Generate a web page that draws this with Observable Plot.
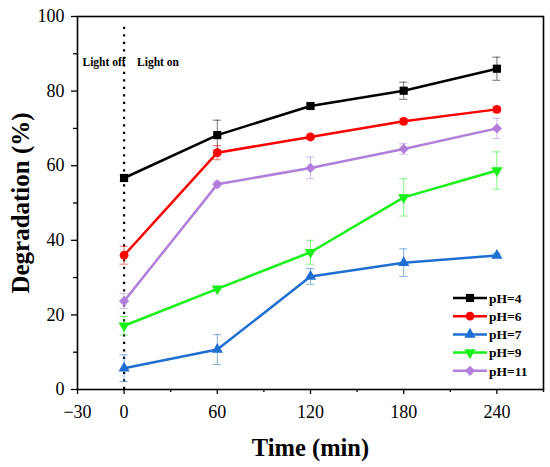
<!DOCTYPE html>
<html>
<head>
<meta charset="utf-8">
<script src="https://cdn.jsdelivr.net/npm/d3@7"></script>
<script src="https://cdn.jsdelivr.net/npm/@observablehq/plot@0.6"></script>
<style>
  html, body { margin: 0; padding: 0; background: #fff; }
  #wrap { position: relative; width: 550px; height: 467px; }
  #legend { position: absolute; left: 448px; top: 288px; }
</style>
</head>
<body>
<div id="wrap"><div id="chart"></div><div id="legend"></div></div>
<script>
const times = [0, 60, 120, 180, 240];
const seriesNames = ["pH=4", "pH=6", "pH=7", "pH=9", "pH=11"];
const seriesColors = ["#000000", "#ff0000", "#1f6fd2", "#18f018", "#b07fdc"];
const ph4 = [56.7, 68.2, 76.0, 80.1, 86.0];
const ph6 = [36.0, 63.5, 67.7, 71.9, 75.1];
const ph7 = [5.7, 10.7, 30.3, 34.0, 35.9];
const ph9 = [17.1, 27.0, 36.8, 51.5, 58.7];
const ph11 = [23.7, 55.0, 59.4, 64.5, 70.0];
const ph4Err = [0.8, 4.0, 0.6, 2.3, 3.1];
const ph6Err = [2.4, 1.9, 0.6, 0.8, 0.8];
const ph7Err = [3.6, 4.0, 2.1, 3.7, 0.6];
const ph9Err = [2.5, 0.6, 3.2, 5.0, 5.0];
const ph11Err = [2.0, 0.8, 2.9, 1.4, 2.7];
const xTicks = [-30, 0, 60, 120, 180, 240];
const xMinor = [30, 90, 150, 210, 270];
const yTicks = [0, 20, 40, 60, 80, 100];
const yMinor = [10, 30, 50, 70, 90];

const values = [ph4, ph6, ph7, ph9, ph11];
const errs = [ph4Err, ph6Err, ph7Err, ph9Err, ph11Err];
const symbols = ["square", "circle", "triangle", "triangle", "diamond2"];
const rotates = [0, 0, 0, 180, 0];
const radii = [4.6, 4.4, 4.2, 4.2, 4.6];

const rows = [];
values.forEach((vals, i) => vals.forEach((v, j) => rows.push({
  s: seriesNames[i], i, t: times[j], v, e: errs[i][j]
})));

const font = "Liberation Serif";
const marks = [];
// dotted separator
marks.push(Plot.ruleX([0], {y1: 0, y2: 98, stroke: "#000", strokeWidth: 2.2, strokeDasharray: "2.2,5.3"}));
// error bars
values.forEach((_, i) => {
  const d = rows.filter(r => r.i === i);
  const c = seriesColors[i];
  marks.push(Plot.ruleX(d, {x: "t", y1: r => r.v - r.e, y2: r => r.v + r.e, stroke: c, strokeOpacity: 0.55, strokeWidth: 1}));
  marks.push(Plot.ruleY(d, {y: r => r.v + r.e, x1: r => r.t - 2.6, x2: r => r.t + 2.6, stroke: c, strokeOpacity: 0.55, strokeWidth: 1}));
  marks.push(Plot.ruleY(d, {y: r => r.v - r.e, x1: r => r.t - 2.6, x2: r => r.t + 2.6, stroke: c, strokeOpacity: 0.55, strokeWidth: 1}));
});
// lines + markers
values.forEach((_, i) => {
  const d = rows.filter(r => r.i === i);
  const c = seriesColors[i];
  marks.push(Plot.line(d, {x: "t", y: "v", stroke: c, strokeWidth: 2.5}));
  marks.push(Plot.dot(d, {x: "t", y: "v", symbol: symbols[i], r: radii[i], rotate: rotates[i], fill: c, stroke: "none"}));
});
// annotations
marks.push(Plot.text(["Light off"], {x: 0, y: 87.6, textAnchor: "end", dx: 1.5, fontSize: 11.5, fontWeight: "bold", fontFamily: font, fill: "#000"}));
marks.push(Plot.text(["Light on"], {x: 0, y: 87.6, textAnchor: "start", dx: 13, fontSize: 11.5, fontWeight: "bold", fontFamily: font, fill: "#000"}));
// axes: tick lines
marks.push(Plot.axisX({ticks: xTicks, tickSize: 5, text: null, label: null, strokeWidth: 1.3}));
marks.push(Plot.axisX({ticks: xMinor, tickSize: 3, text: null, label: null, strokeWidth: 1.3}));
marks.push(Plot.axisY({ticks: yTicks, tickSize: 6, text: null, label: null, strokeWidth: 1.3}));
marks.push(Plot.axisY({ticks: yMinor, tickSize: 4, text: null, label: null, strokeWidth: 1.3}));
// tick labels (serif)
marks.push(Plot.text(xTicks, {x: d => d, text: d => d < 0 ? "\u2212" + Math.abs(d) : String(d), frameAnchor: "bottom", lineAnchor: "middle", textAnchor: "middle", dy: 23, fontSize: 18, fontFamily: font, fill: "#000"}));
marks.push(Plot.text(yTicks, {y: d => d, text: d => String(d), frameAnchor: "left", lineAnchor: "middle", textAnchor: "end", dx: -13, fontSize: 18, fontFamily: font, fill: "#000"}));
marks.push(Plot.frame({stroke: "#000", strokeWidth: 1.6}));
// axis titles
marks.push(Plot.text(["Degradation (%)"], {frameAnchor: "left", textAnchor: "middle", lineAnchor: "middle", dx: -57, rotate: -90, fontSize: 25, fontWeight: "bold", fontFamily: font, fill: "#000"}));
marks.push(Plot.text(["Time (min)"], {frameAnchor: "bottom", textAnchor: "middle", lineAnchor: "middle", dy: 59, fontSize: 24.5, fontWeight: "bold", fontFamily: font, fill: "#000"}));

const chart = Plot.plot({
  width: 550,
  height: 467,
  marginLeft: 77,
  marginRight: 7,
  marginTop: 16,
  marginBottom: 78,
  style: {fontFamily: font, color: "#000", background: "#fff", overflow: "visible"},
  x: {domain: [-30, 270]},
  y: {domain: [0, 100]},
  marks
});
document.getElementById("chart").append(chart);

// legend (in-plot, bottom right)
const lg = d3.select("#legend").append("svg").attr("width", 100).attr("height", 95);
const d3sym = {square: d3.symbolSquare, circle: d3.symbolCircle, triangle: d3.symbolTriangle, diamond2: d3.symbolDiamond2};
seriesNames.forEach((name, i) => {
  const y = 10 + i * 18.2;
  const g = lg.append("g").attr("transform", `translate(0,${y})`);
  g.append("line").attr("x1", 5).attr("x2", 39).attr("y1", 0).attr("y2", 0)
    .attr("stroke", seriesColors[i]).attr("stroke-width", 2.5);
  g.append("path").attr("d", d3.symbol(d3sym[symbols[i]], radii[i] * radii[i] * Math.PI)())
    .attr("transform", `translate(22,0) rotate(${rotates[i]})`).attr("fill", seriesColors[i]);
  g.append("text").attr("x", 41).attr("y", 0).attr("dy", "0.35em")
    .attr("font-family", font).attr("font-weight", "bold").attr("font-size", 13.5)
    .attr("fill", "#000").text(name);
});
</script>
</body>
</html>
